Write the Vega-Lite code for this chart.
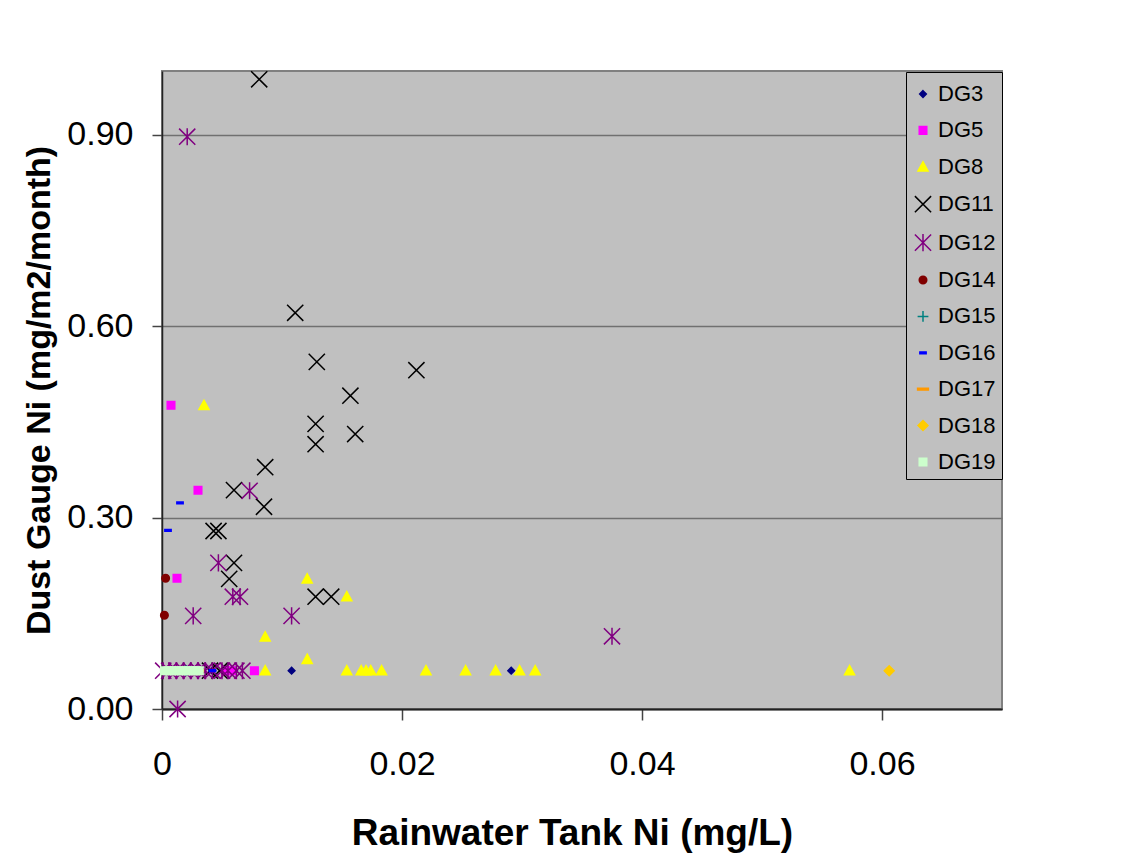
{
  "$schema": "https://vega.github.io/schema/vega-lite/v6.json",
  "width": 840,
  "height": 638,
  "autosize": {"type": "none"},
  "padding": {"left": 162, "top": 71, "right": 146, "bottom": 153},
  "background": "white",
  "config": {
    "font": "Liberation Sans",
    "view": {"fill": "#C0C0C0", "stroke": "#808080", "strokeWidth": 2},
    "legend": {
      "orient": "none",
      "legendX": 744,
      "legendY": 1,
      "fillColor": "#C0C0C0",
      "strokeColor": "black",
      "padding": 6,
      "labelFontSize": 22,
      "labelColor": "black",
      "labelOffset": 4,
      "symbolSize": 324,
      "symbolStrokeWidth": 1.5,
      "symbolOpacity": 1,
      "rowPadding": 14.4,
      "titleFontSize": 2,
      "titlePadding": 3
    }
  },
  "data": {
    "values": [
      {"series": "DG3", "rain": 0.0042, "dust": 0.06},
      {"series": "DG3", "rain": 0.0060, "dust": 0.06},
      {"series": "DG3", "rain": 0.0108, "dust": 0.06},
      {"series": "DG3", "rain": 0.0291, "dust": 0.06},
      {"series": "DG5", "rain": 0.00075, "dust": 0.476},
      {"series": "DG5", "rain": 0.0030, "dust": 0.343},
      {"series": "DG5", "rain": 0.00125, "dust": 0.205},
      {"series": "DG5", "rain": 0.0053, "dust": 0.06},
      {"series": "DG5", "rain": 0.0058, "dust": 0.06},
      {"series": "DG5", "rain": 0.0077, "dust": 0.06},
      {"series": "DG8", "rain": 0.0035, "dust": 0.476},
      {"series": "DG8", "rain": 0.0121, "dust": 0.204},
      {"series": "DG8", "rain": 0.0154, "dust": 0.176},
      {"series": "DG8", "rain": 0.0086, "dust": 0.113},
      {"series": "DG8", "rain": 0.0121, "dust": 0.078},
      {"series": "DG8", "rain": 0.0086, "dust": 0.06},
      {"series": "DG8", "rain": 0.0154, "dust": 0.06},
      {"series": "DG8", "rain": 0.0166, "dust": 0.06},
      {"series": "DG8", "rain": 0.0170, "dust": 0.06},
      {"series": "DG8", "rain": 0.0174, "dust": 0.06},
      {"series": "DG8", "rain": 0.0183, "dust": 0.06},
      {"series": "DG8", "rain": 0.0220, "dust": 0.06},
      {"series": "DG8", "rain": 0.0253, "dust": 0.06},
      {"series": "DG8", "rain": 0.0278, "dust": 0.06},
      {"series": "DG8", "rain": 0.0298, "dust": 0.06},
      {"series": "DG8", "rain": 0.0311, "dust": 0.06},
      {"series": "DG8", "rain": 0.0573, "dust": 0.06},
      {"series": "DG11", "rain": 0.0081, "dust": 0.987},
      {"series": "DG11", "rain": 0.0111, "dust": 0.621},
      {"series": "DG11", "rain": 0.0129, "dust": 0.544},
      {"series": "DG11", "rain": 0.0212, "dust": 0.531},
      {"series": "DG11", "rain": 0.0157, "dust": 0.491},
      {"series": "DG11", "rain": 0.0128, "dust": 0.447},
      {"series": "DG11", "rain": 0.0161, "dust": 0.431},
      {"series": "DG11", "rain": 0.0128, "dust": 0.415},
      {"series": "DG11", "rain": 0.0086, "dust": 0.379},
      {"series": "DG11", "rain": 0.0085, "dust": 0.317},
      {"series": "DG11", "rain": 0.0060, "dust": 0.343},
      {"series": "DG11", "rain": 0.0043, "dust": 0.279},
      {"series": "DG11", "rain": 0.0047, "dust": 0.279},
      {"series": "DG11", "rain": 0.0060, "dust": 0.229},
      {"series": "DG11", "rain": 0.0056, "dust": 0.204},
      {"series": "DG11", "rain": 0.0128, "dust": 0.176},
      {"series": "DG11", "rain": 0.0141, "dust": 0.176},
      {"series": "DG11", "rain": 0.0040, "dust": 0.06},
      {"series": "DG11", "rain": 0.0048, "dust": 0.06},
      {"series": "DG12", "rain": 0.0021, "dust": 0.897},
      {"series": "DG12", "rain": 0.0073, "dust": 0.342},
      {"series": "DG12", "rain": 0.0047, "dust": 0.229},
      {"series": "DG12", "rain": 0.0059, "dust": 0.176},
      {"series": "DG12", "rain": 0.0065, "dust": 0.176},
      {"series": "DG12", "rain": 0.0026, "dust": 0.146},
      {"series": "DG12", "rain": 0.0108, "dust": 0.146},
      {"series": "DG12", "rain": 0.0375, "dust": 0.114},
      {"series": "DG12", "rain": 0.0013, "dust": 0.0},
      {"series": "DG12", "rain": 0.0001, "dust": 0.06},
      {"series": "DG12", "rain": 0.0006, "dust": 0.06},
      {"series": "DG12", "rain": 0.0012, "dust": 0.06},
      {"series": "DG12", "rain": 0.0018, "dust": 0.06},
      {"series": "DG12", "rain": 0.0024, "dust": 0.06},
      {"series": "DG12", "rain": 0.0030, "dust": 0.06},
      {"series": "DG12", "rain": 0.0036, "dust": 0.06},
      {"series": "DG12", "rain": 0.0042, "dust": 0.06},
      {"series": "DG12", "rain": 0.0050, "dust": 0.06},
      {"series": "DG12", "rain": 0.0055, "dust": 0.06},
      {"series": "DG12", "rain": 0.0062, "dust": 0.06},
      {"series": "DG12", "rain": 0.0067, "dust": 0.06},
      {"series": "DG14", "rain": 0.0003, "dust": 0.205},
      {"series": "DG14", "rain": 0.0002, "dust": 0.147},
      {"series": "DG15", "rain": 0.0020, "dust": 0.06},
      {"series": "DG16", "rain": 0.0015, "dust": 0.323},
      {"series": "DG16", "rain": 0.0005, "dust": 0.28},
      {"series": "DG16", "rain": 0.0042, "dust": 0.06},
      {"series": "DG17", "rain": 0.0030, "dust": 0.06},
      {"series": "DG18", "rain": 0.0606, "dust": 0.06},
      {"series": "DG19", "rain": 0.0002, "dust": 0.06},
      {"series": "DG19", "rain": 0.0005, "dust": 0.06},
      {"series": "DG19", "rain": 0.0008, "dust": 0.06},
      {"series": "DG19", "rain": 0.0011, "dust": 0.06},
      {"series": "DG19", "rain": 0.0014, "dust": 0.06},
      {"series": "DG19", "rain": 0.0017, "dust": 0.06},
      {"series": "DG19", "rain": 0.0020, "dust": 0.06},
      {"series": "DG19", "rain": 0.0023, "dust": 0.06},
      {"series": "DG19", "rain": 0.0026, "dust": 0.06},
      {"series": "DG19", "rain": 0.0029, "dust": 0.06},
      {"series": "DG19", "rain": 0.0031, "dust": 0.06}
    ]
  },
  "mark": {"type": "point", "filled": true, "opacity": 1, "size": 324, "strokeWidth": 1.5},
  "encoding": {
    "x": {
      "field": "rain",
      "type": "quantitative",
      "scale": {"domain": [0, 0.07], "nice": false},
      "axis": {
        "values": [0, 0.02, 0.04, 0.06],
        "format": ".2~f",
        "grid": false,
        "domainColor": "#222222",
        "domainWidth": 2,
        "tickColor": "#444444",
        "tickWidth": 1.5,
        "tickSize": 11,
        "labelFontSize": 34,
        "labelColor": "black",
        "labelPadding": 27,
        "labelFlush": false,
        "title": "Rainwater Tank Ni (mg/L)",
        "titleFontSize": 37,
        "titleFontWeight": "bold",
        "titleColor": "black",
        "titlePadding": 34,
        "titleX": 410
      }
    },
    "y": {
      "field": "dust",
      "type": "quantitative",
      "scale": {"domain": [0, 1], "nice": false},
      "axis": {
        "values": [0, 0.3, 0.6, 0.9],
        "format": ".2f",
        "grid": true,
        "gridColor": "#707070",
        "gridWidth": 1.5,
        "domainColor": "#222222",
        "domainWidth": 1.5,
        "tickColor": "#444444",
        "tickWidth": 1.5,
        "tickSize": 10,
        "labelFontSize": 34,
        "labelColor": "black",
        "labelPadding": 19,
        "labelFlush": false,
        "title": "Dust Gauge Ni (mg/m2/month)",
        "titleFontSize": 34,
        "titleFontWeight": "bold",
        "titleColor": "black",
        "titlePadding": 10
      }
    },
    "color": {
      "field": "series",
      "type": "nominal",
      "scale": {
        "domain": ["DG3", "DG5", "DG8", "DG11", "DG12", "DG14", "DG15", "DG16", "DG17", "DG18", "DG19"],
        "range": ["#000080", "#FF00FF", "#FFFF00", "#000000", "#800080", "#800000", "#008080", "#0000FF", "#FF9900", "#FFCC00", "#CCFFCC"]
      },
      "legend": {"title": " "}
    },
    "stroke": {
      "field": "series",
      "type": "nominal",
      "scale": {
        "domain": ["DG3", "DG5", "DG8", "DG11", "DG12", "DG14", "DG15", "DG16", "DG17", "DG18", "DG19"],
        "range": ["#000080", "#FF00FF", "#FFFF00", "#000000", "#800080", "#800000", "#008080", "#0000FF", "#FF9900", "#FFCC00", "#CCFFCC"]
      },
      "legend": {"title": " "}
    },
    "shape": {
      "field": "series",
      "type": "nominal",
      "scale": {
        "domain": ["DG3", "DG5", "DG8", "DG11", "DG12", "DG14", "DG15", "DG16", "DG17", "DG18", "DG19"],
        "range": [
          "M0,-0.37L0.37,0L0,0.37L-0.37,0Z",
          "M-0.42,-0.42L0.42,-0.42L0.42,0.42L-0.42,0.42Z",
          "M0,-0.56L0.56,0.46L-0.56,0.46Z",
          "M-0.9,-0.9L0.9,0.9M-0.9,0.9L0.9,-0.9",
          "M-0.9,-0.9L0.9,0.9M-0.9,0.9L0.9,-0.9M0,-0.95L0,0.95",
          "M0.42,0A0.42,0.42 0 1,1 -0.42,0A0.42,0.42 0 1,1 0.42,0Z",
          "M-0.6,0L0.6,0M0,-0.6L0,0.6",
          "M-0.35,-0.1L0.35,-0.1L0.35,0.1L-0.35,0.1Z",
          "M-0.6,-0.1L0.6,-0.1L0.6,0.1L-0.6,0.1Z",
          "M0,-0.55L0.55,0L0,0.55L-0.55,0Z",
          "M-0.42,-0.42L0.42,-0.42L0.42,0.42L-0.42,0.42Z"
        ]
      },
      "legend": {"title": " "}
    }
  }
}
